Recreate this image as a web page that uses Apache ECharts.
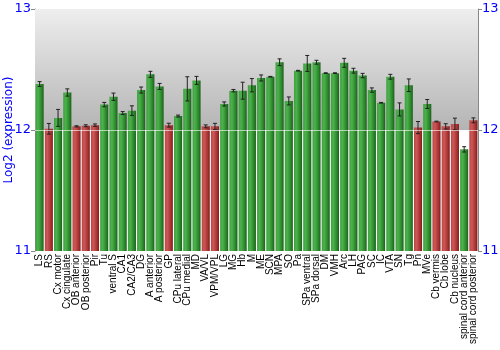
<!DOCTYPE html>
<html>
<head>
<meta charset="utf-8">
<script src="https://cdn.jsdelivr.net/npm/echarts@6/dist/echarts.min.js"></script>
<style>html,body{margin:0;padding:0;background:#fff}#c{width:500px;height:350px}</style>
</head>
<body>
<div id="c"></div>
<script>
const categories = ["LS","RS","Cx motor","Cx cingulate","OB anterior","OB posterior","Pir","Tu","ventral S","CA1","CA2/CA3","DG","A anterior","A posterior","GP","CPu lateral","CPu medial","MD","VA/VL","VPM/VPL","LG","MG","Hb","M","ME","SCN","MPA","SO","Pa","SPa ventral","SPa dorsal","DM","VMH","Arc","LH","PAG","SC","IC","VTA","SN","Tg","Pn","MVe","Cb vermis","Cb lobe","Cb nucleus","spinal cord anterior","spinal cord posterior"];
const values = [12.38,12.01,12.10,12.31,12.03,12.035,12.04,12.21,12.275,12.14,12.16,12.33,12.46,12.36,12.04,12.115,12.34,12.41,12.03,12.03,12.215,12.325,12.325,12.37,12.43,12.44,12.56,12.24,12.49,12.55,12.56,12.47,12.47,12.555,12.49,12.45,12.33,12.225,12.44,12.17,12.37,12.02,12.215,12.07,12.03,12.05,11.84,12.08];
const errors = [0.02,0.044,0.07,0.03,0.005,0.008,0.01,0.018,0.03,0.012,0.04,0.025,0.025,0.025,0.016,0.008,0.10,0.033,0.012,0.025,0.017,0.01,0.07,0.055,0.025,0.003,0.028,0.033,0.003,0.066,0.016,0.003,0.003,0.037,0.02,0.018,0.018,0.003,0.02,0.054,0.052,0.05,0.037,0.003,0.022,0.048,0.022,0.02];
const isRed = [0,1,0,0,1,1,1,0,0,0,0,0,0,0,1,0,0,0,1,1,0,0,0,0,0,0,0,0,0,0,0,0,0,0,0,0,0,0,0,0,0,1,0,1,1,1,0,1];
const yTicks = [11, 12, 13];

const greenGrad = new echarts.graphic.LinearGradient(0,0,1,0,[
  {offset:0,color:'#3f9f3f'},{offset:0.3,color:'#4cb24c'},{offset:0.75,color:'#2a862a'},{offset:1,color:'#1c5e1c'}]);
const redGrad = new echarts.graphic.LinearGradient(0,0,1,0,[
  {offset:0,color:'#b84444'},{offset:0.3,color:'#cc5858'},{offset:0.75,color:'#a83232'},{offset:1,color:'#7a1e1e'}]);

const barData = values.map((v,i)=>({value:v,itemStyle:{color:isRed[i]?redGrad:greenGrad}}));
const errData = values.map((v,i)=>[i, v-errors[i], v+errors[i]]);

const chart = echarts.init(document.getElementById('c'), null, {renderer:'canvas'});
chart.setOption({
  animation:false,
  grid:{left:35,right:22,top:9,bottom:99,containLabel:false,outerBoundsMode:'none'},
  xAxis:[{
    type:'category', data:categories,
    axisLine:{show:false}, axisTick:{show:false},
    axisLabel:{rotate:90, interval:0, fontSize:10, color:'#000', fontFamily:'Liberation Sans, Arial, sans-serif', margin:3}
  },{
    type:'category', position:'top', data:categories,
    axisLine:{show:true,lineStyle:{color:'#666',width:1}}, axisTick:{show:false}, axisLabel:{show:false}
  }],
  yAxis:[{
    type:'value', min:11, max:13, interval:1,
    name:'Log2 (expression)', nameLocation:'middle', nameGap:20, nameMoveOverlap:false,
    nameTextStyle:{color:'#0000ff',fontSize:12,fontFamily:'DejaVu Sans, sans-serif'},
    axisLine:{show:true,lineStyle:{color:'#888'}},
    axisTick:{show:true,length:4,lineStyle:{color:'#888'}},
    axisLabel:{color:'#0000ff',fontSize:13,fontFamily:'DejaVu Sans, sans-serif',margin:4},
    splitLine:{show:false}
  },{
    type:'value', min:11, max:13, interval:1, position:'right',
    axisLine:{show:true,lineStyle:{color:'#888'}},
    axisTick:{show:true,length:4,lineStyle:{color:'#888'}},
    axisLabel:{color:'#0000ff',fontSize:13,fontFamily:'DejaVu Sans, sans-serif',margin:4},
    splitLine:{show:false}
  }],
  series:[
    {
      type:'line', data:[], z:0, silent:true,
      markArea:{silent:true, itemStyle:{color:new echarts.graphic.LinearGradient(0,0,0,1,[{offset:0,color:'#eeeeee'},{offset:1,color:'#b4b4b4'}])},
        data:[[{yAxis:12},{yAxis:13}]]}
    },
    {
      type:'bar', data:barData, barCategoryGap:'12%', z:2
    },
    {
      type:'custom', z:4, data:errData,
      renderItem:function(params, api){
        const x = api.value(0);
        const lo = api.coord([x, api.value(1)]);
        const hi = api.coord([x, api.value(2)]);
        const cw = 2;
        const st = {stroke:'#222', lineWidth:1};
        return {type:'group', children:[
          {type:'line', shape:{x1:lo[0],y1:lo[1],x2:hi[0],y2:hi[1]}, style:st},
          {type:'line', shape:{x1:lo[0]-cw,y1:lo[1],x2:lo[0]+cw,y2:lo[1]}, style:st},
          {type:'line', shape:{x1:hi[0]-cw,y1:hi[1],x2:hi[0]+cw,y2:hi[1]}, style:st}
        ]};
      }
    },
    {
      type:'line', data:[], z:5, silent:true,
      markLine:{silent:true, symbol:'none', label:{show:false},
        lineStyle:{color:'rgba(255,255,255,0.6)',type:'solid',width:1},
        data:[{yAxis:yTicks[1]}]}
    }
  ]
});
</script>
</body>
</html>
